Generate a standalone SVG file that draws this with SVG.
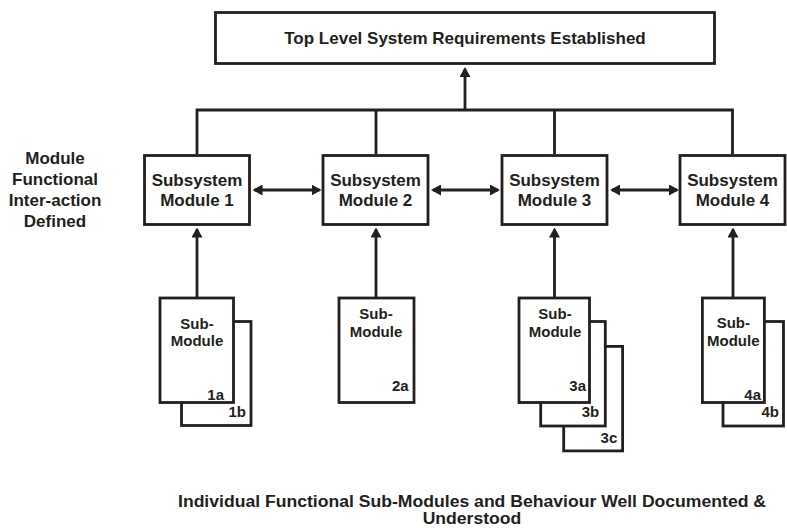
<svg xmlns="http://www.w3.org/2000/svg" width="787" height="528" viewBox="0 0 787 528">
<style>
.box{fill:#fff;stroke:#231f20;stroke-width:2.8}
.ln{fill:none;stroke:#231f20;stroke-width:2.8}
text{font-family:"Liberation Sans",Arial,sans-serif;font-weight:bold;fill:#231f20}
.t17{font-size:17px;text-anchor:middle}
.t15{font-size:15px;text-anchor:middle}
.lab{font-size:15px;text-anchor:end}
.bot{font-size:16.5px;text-anchor:middle}
</style>
<defs>
<marker id="ah" viewBox="0 0 10 11" markerWidth="10" markerHeight="11" refX="8" refY="5.5" orient="auto-start-reverse" markerUnits="userSpaceOnUse">
<path d="M0,0 L10,5.5 L0,11 z" fill="#231f20"/>
</marker>
</defs>
<rect width="787" height="528" fill="#fff"/>

<g id="connectors">
<path class="ln" d="M197,154 V110 H732.5 V154 M376,110 V154 M554.5,110 V154"/>
<path class="ln" d="M465,110 V69" marker-end="url(#ah)"/>
<path class="ln" d="M254.5,190 H319.5" marker-start="url(#ah)" marker-end="url(#ah)"/>
<path class="ln" d="M433,190 H498" marker-start="url(#ah)" marker-end="url(#ah)"/>
<path class="ln" d="M612,190 H677" marker-start="url(#ah)" marker-end="url(#ah)"/>
<path class="ln" d="M197,297 V229.5" marker-end="url(#ah)"/>
<path class="ln" d="M376,297 V229.5" marker-end="url(#ah)"/>
<path class="ln" d="M554.5,297 V229.5" marker-end="url(#ah)"/>
<path class="ln" d="M733,297 V229.5" marker-end="url(#ah)"/>
</g>

<g id="top">
<rect class="box" x="215.5" y="12.5" width="499" height="51"/>
<text class="t17" x="465" y="44.3">Top Level System Requirements Established</text>
</g>

<g id="left-label">
<text class="t17" x="55" y="164.3">Module</text>
<text class="t17" x="55" y="185">Functional</text>
<text class="t17" x="55" y="206">Inter-action</text>
<text class="t17" x="55" y="226.7">Defined</text>
</g>

<g id="subsystem1">
<rect class="box" x="144.5" y="155.5" width="105" height="69"/>
<text class="t17" x="197" y="185.7">Subsystem</text>
<text class="t17" x="197" y="205.7">Module 1</text>
</g>
<g id="subsystem2">
<rect class="box" x="323" y="155.5" width="105" height="69"/>
<text class="t17" x="375.5" y="185.7">Subsystem</text>
<text class="t17" x="375.5" y="205.7">Module 2</text>
</g>
<g id="subsystem3">
<rect class="box" x="502" y="155.5" width="105" height="69"/>
<text class="t17" x="554.5" y="185.7">Subsystem</text>
<text class="t17" x="554.5" y="205.7">Module 3</text>
</g>
<g id="subsystem4">
<rect class="box" x="680" y="155.5" width="105" height="69"/>
<text class="t17" x="732.5" y="185.7">Subsystem</text>
<text class="t17" x="732.5" y="205.7">Module 4</text>
</g>

<g id="submodule1">
<rect class="box" x="181.5" y="321.5" width="69.5" height="104"/>
<text class="lab" x="246" y="417.3">1b</text>
<rect class="box" x="160" y="298" width="73.5" height="104.5"/>
<text class="t15" x="197" y="329.3">Sub-</text>
<text class="t15" x="197" y="346">Module</text>
<text class="lab" x="224" y="400">1a</text>
</g>

<g id="submodule2">
<rect class="box" x="339" y="298" width="75" height="104.5"/>
<text class="t15" x="376" y="319.3">Sub-</text>
<text class="t15" x="376" y="336.7">Module</text>
<text class="lab" x="408.7" y="390.7">2a</text>
</g>

<g id="submodule3">
<rect class="box" x="563.7" y="346.4" width="58.9" height="104.5"/>
<text class="lab" x="617.3" y="442.7">3c</text>
<rect class="box" x="540.7" y="321.5" width="64.6" height="104.5"/>
<text class="lab" x="599.3" y="417.3">3b</text>
<rect class="box" x="519" y="298" width="70.5" height="104.5"/>
<text class="t15" x="555" y="319.3">Sub-</text>
<text class="t15" x="555" y="336.7">Module</text>
<text class="lab" x="586" y="390.7">3a</text>
</g>

<g id="submodule4">
<rect class="box" x="723" y="321.5" width="60.5" height="104.5"/>
<text class="lab" x="779" y="417.3">4b</text>
<rect class="box" x="702.4" y="298" width="62" height="104.5"/>
<text class="t15" x="733.3" y="328.3">Sub-</text>
<text class="t15" x="733.3" y="345.7">Module</text>
<text class="lab" x="761" y="400">4a</text>
</g>

<g id="bottom-label" transform="translate(472,0) scale(1.067,1)">
<text class="bot" x="0" y="507">Individual Functional Sub-Modules and Behaviour Well Documented &amp;</text>
<text class="bot" x="0" y="524.5">Understood</text>
</g>
</svg>
